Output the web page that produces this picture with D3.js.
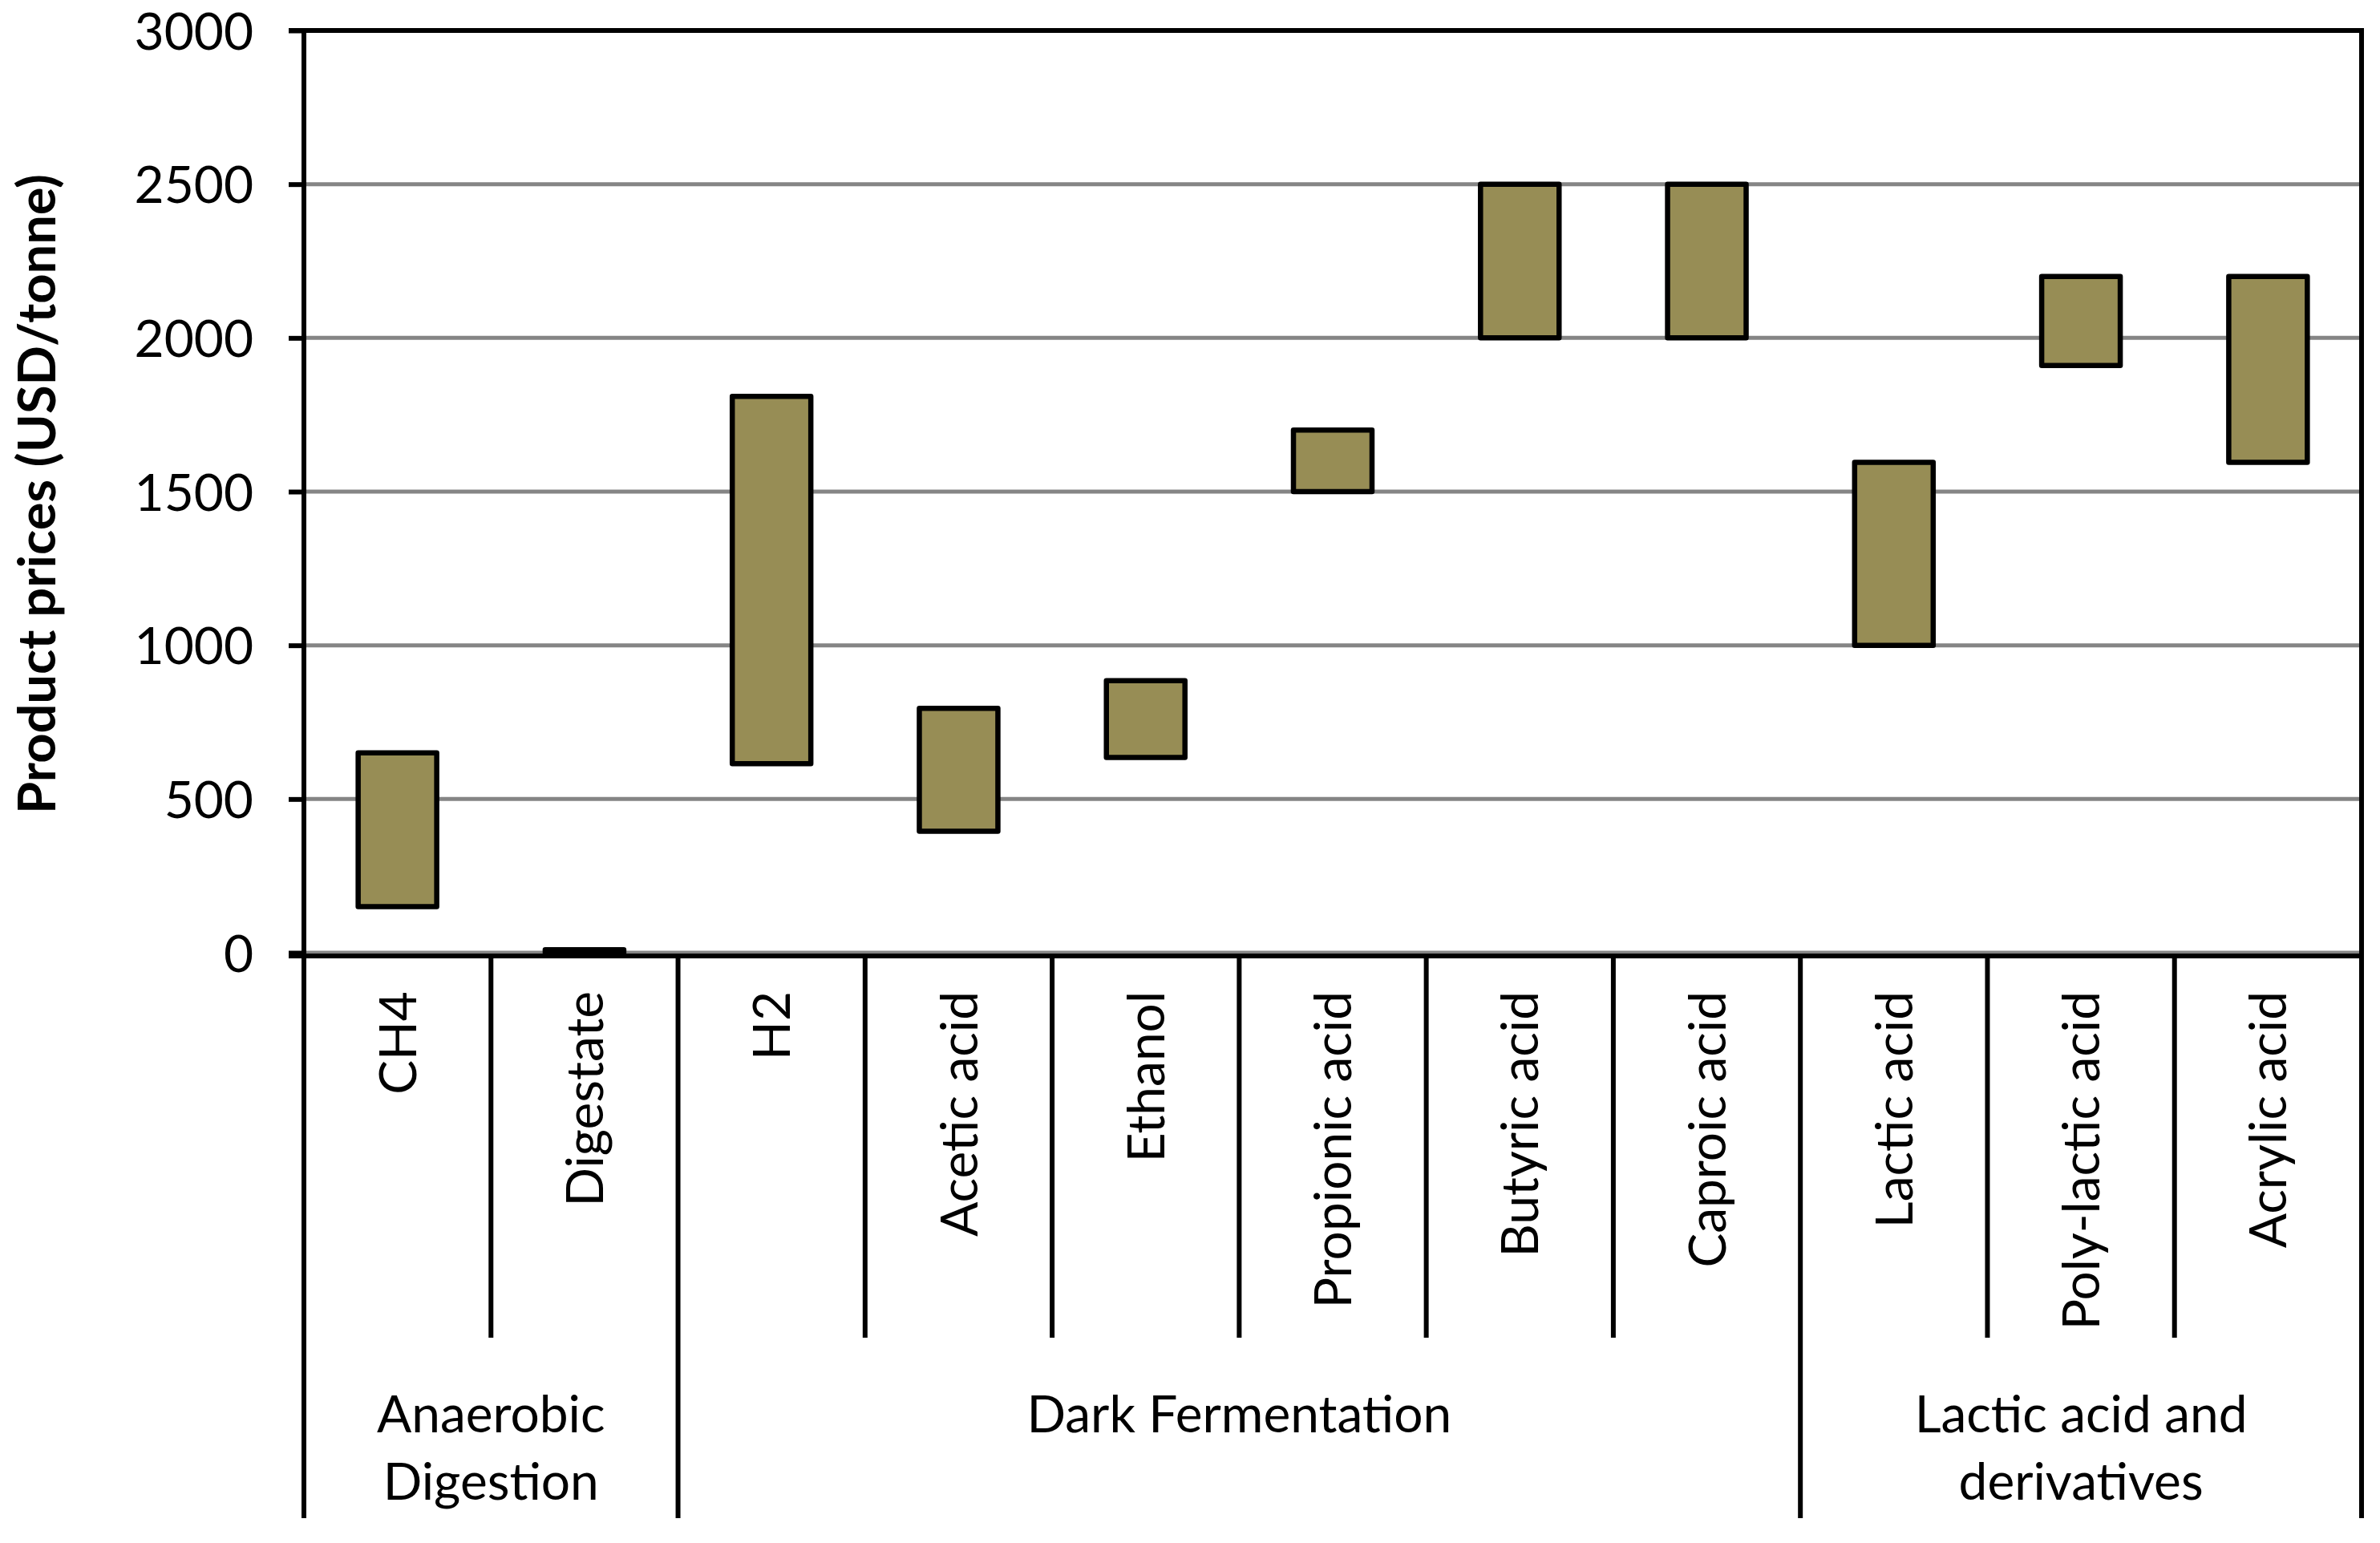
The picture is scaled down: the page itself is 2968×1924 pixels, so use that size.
<!DOCTYPE html>
<html>
<head>
<meta charset="utf-8">
<script src="https://cdn.jsdelivr.net/npm/d3@7"></script>
<style>
  html, body { margin: 0; padding: 0; background: #fff; }
  svg { display: block; }
  text { font-family: Lato, "Open Sans", sans-serif; fill: #000; }
</style>
</head>
<body>
<div id="chart"></div>
<script>
// price ranges (USD/tonne) per product
const categories = ["CH4", "Digestate", "H2", "Acetic acid", "Ethanol", "Propionic acid",
                    "Butyric acid", "Caproic acid", "Lactic acid", "Poly-lactic acid", "Acrylic acid"];
const lowValues  = [150, 0, 615, 395, 635, 1500, 2000, 2000, 1000, 1910, 1595];
const highValues = [650, 10, 1810, 795, 885, 1700, 2500, 2500, 1595, 2200, 2200];

// process groups shown under the product labels
const groupLabels = [["Anaerobic", "Digestion"], ["Dark Fermentation"], ["Lactic acid and", "derivatives"]];
const groupSizes = [2, 6, 3];

const yTicks = [0, 500, 1000, 1500, 2000, 2500, 3000];

const W = 2968, H = 1924;
const plotLeft = 379, plotRight = 2945, plotTop = 38, zeroY = 1188;
const labelTop = 1236, innerSepEnd = 1668, groupSepEnd = 1893;

const svg = d3.select("#chart").append("svg")
    .attr("width", W)
    .attr("height", H);

const x = d3.scaleBand()
    .domain(categories)
    .range([plotLeft, plotRight])
    .paddingInner(0.58)
    .paddingOuter(0.29);

const y = d3.scaleLinear()
    .domain([0, 3000])
    .range([zeroY, plotTop]);

// gridlines
svg.append("g")
    .selectAll("line")
    .data(yTicks.filter(d => d < 3000))
    .enter().append("line")
    .attr("x1", plotLeft).attr("x2", plotRight)
    .attr("y1", d => y(d)).attr("y2", d => y(d))
    .attr("stroke", "#858585")
    .attr("stroke-width", 5);

// y axis with ticks and labels
const yAxis = svg.append("g")
    .attr("transform", "translate(" + plotLeft + ",0)")
    .call(d3.axisLeft(y).tickValues(yTicks).tickSize(19).tickPadding(44).tickFormat(d3.format("d")));
yAxis.select(".domain").remove();
yAxis.selectAll(".tick line").attr("stroke", "#000").attr("stroke-width", 6);
yAxis.selectAll(".tick text")
    .style("font-family", "Lato, sans-serif")
    .style("font-size", "64px")
    .attr("dy", "0.36em");

// plot frame: top and right edges
svg.append("line")
    .attr("x1", plotLeft - 19).attr("x2", plotRight + 3)
    .attr("y1", y(3000)).attr("y2", y(3000))
    .attr("stroke", "#000").attr("stroke-width", 6);
svg.append("line")
    .attr("x1", plotRight).attr("x2", plotRight)
    .attr("y1", y(3000) - 3).attr("y2", groupSepEnd)
    .attr("stroke", "#000").attr("stroke-width", 6);
// left axis line, running down past the group labels
svg.append("line")
    .attr("x1", plotLeft).attr("x2", plotLeft)
    .attr("y1", y(3000) - 3).attr("y2", groupSepEnd)
    .attr("stroke", "#000").attr("stroke-width", 6);

// range bars
svg.append("g")
    .selectAll("rect")
    .data(categories)
    .enter().append("rect")
    .attr("x", d => x(d))
    .attr("width", x.bandwidth())
    .attr("y", (d, i) => y(highValues[i]))
    .attr("height", (d, i) => y(lowValues[i]) - y(highValues[i]))
    .attr("fill", "#978d55")
    .attr("stroke", "#000")
    .attr("stroke-width", 6.5)
    .attr("stroke-linejoin", "round");

// category axis line
svg.append("line")
    .attr("x1", plotLeft - 19).attr("x2", plotRight + 3)
    .attr("y1", zeroY + 4).attr("y2", zeroY + 4)
    .attr("stroke", "#000").attr("stroke-width", 6);

// separators between categories
const step = x.step();
const groupEdges = [0];
groupSizes.forEach((s, i) => groupEdges.push(groupEdges[i] + s));
const sepIdx = d3.range(1, categories.length);
svg.append("g")
    .selectAll("line")
    .data(sepIdx)
    .enter().append("line")
    .attr("x1", i => plotLeft + i * step).attr("x2", i => plotLeft + i * step)
    .attr("y1", zeroY + 4)
    .attr("y2", i => groupEdges.includes(i) ? groupSepEnd : innerSepEnd)
    .attr("stroke", "#000").attr("stroke-width", 6);

// rotated category labels
svg.append("g")
    .selectAll("text")
    .data(categories)
    .enter().append("text")
    .attr("transform", d => "translate(" + (x(d) + x.bandwidth() / 2) + "," + labelTop + ") rotate(-90)")
    .attr("text-anchor", "end")
    .attr("dy", "0.36em")
    .style("font-size", "64px")
    .text(d => d);

// group labels
groupLabels.forEach((lines, g) => {
    const cx = plotLeft + (groupEdges[g] + groupEdges[g + 1]) / 2 * step;
    const t = svg.append("text")
        .attr("text-anchor", "middle")
        .style("font-size", "64px");
    lines.forEach((ln, k) => {
        t.append("tspan")
            .attr("x", cx)
            .attr("y", 1763 + k * 84)
            .attr("dy", "0.36em")
            .text(ln);
    });
});

// y axis title
svg.append("text")
    .attr("transform", "translate(46," + ((plotTop + zeroY) / 2 + 3) + ") rotate(-90)")
    .attr("text-anchor", "middle")
    .attr("dy", "0.36em")
    .style("font-size", "65px")
    .style("font-weight", "bold")
    .text("Product prices (USD/tonne)");
</script>
</body>
</html>
